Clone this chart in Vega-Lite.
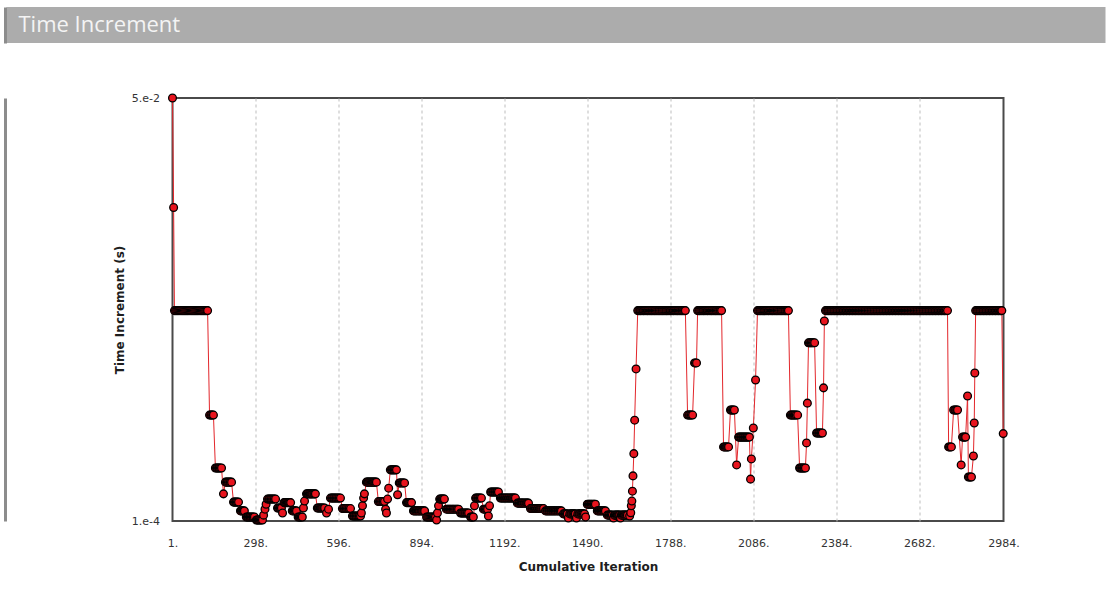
{
  "$schema": "https://vega.github.io/schema/vega-lite/v6.json",
  "background": "white",
  "padding": {"left": 3.5, "top": 7, "right": 0, "bottom": 0},
  "columns": 1,
  "bounds": "full",
  "spacing": 47,
  "config": {
    "axis": {
      "labelFont": "DejaVu Sans",
      "labelFontSize": 11,
      "labelColor": "#333333",
      "titleFont": "DejaVu Sans",
      "titleFontSize": 12,
      "titleFontWeight": "bold",
      "titleColor": "#1e1e1e"
    }
  },
  "concat": [
    {
      "width": 933,
      "height": 36,
      "view": {"stroke": null},
      "data": {"values": [{"panel": "Time Increment"}]},
      "encoding": {
        "x": {"field": "panel", "type": "nominal", "scale": {"type": "band", "range": [-166, 933], "paddingInner": 0, "paddingOuter": 0}, "axis": null},
        "y": {"field": "panel", "type": "nominal", "scale": {"type": "band", "paddingInner": 0, "paddingOuter": 0}, "axis": {"orient": "left", "labels": false, "ticks": false, "grid": false, "title": null, "domain": true, "domainColor": "#8c8c8c", "domainWidth": 3, "offset": 167.5}}
      },
      "layer": [
        {"mark": {"type": "rect", "color": "#acacac"}},
        {
          "mark": {"type": "text", "align": "left", "baseline": "middle", "dx": 12, "font": "Open Sans", "fontSize": 22, "color": "#f4f4f4"},
          "encoding": {
            "text": {"field": "panel"},
            "x": {"field": "panel", "type": "nominal", "bandPosition": 0, "scale": {"type": "band", "range": [-166, 933], "paddingInner": 0, "paddingOuter": 0}, "axis": null}
          }
        }
      ]
    },
    {
      "width": 831,
      "height": 423,
      "view": {"stroke": "#4a4a4a", "strokeWidth": 2, "fill": "white"},
      "data": {"values": [
        {"it":1,"dt":0.05},{"it":5,"dt":0.01},
        {"it":8,"dt":0.0022},{"it":12,"dt":0.0022},{"it":16,"dt":0.0022},{"it":20,"dt":0.0022},{"it":24,"dt":0.0022},{"it":28,"dt":0.0022},{"it":32,"dt":0.0022},{"it":36,"dt":0.0022},{"it":40,"dt":0.0022},{"it":44,"dt":0.0022},{"it":48,"dt":0.0022},{"it":52,"dt":0.0022},{"it":56,"dt":0.0022},{"it":60,"dt":0.0022},{"it":64,"dt":0.0022},{"it":68,"dt":0.0022},{"it":72,"dt":0.0022},{"it":76,"dt":0.0022},{"it":80,"dt":0.0022},{"it":84,"dt":0.0022},{"it":88,"dt":0.0022},{"it":92,"dt":0.0022},{"it":96,"dt":0.0022},{"it":100,"dt":0.0022},{"it":104,"dt":0.0022},{"it":108,"dt":0.0022},{"it":112,"dt":0.0022},{"it":116,"dt":0.0022},{"it":120,"dt":0.0022},{"it":124,"dt":0.0022},{"it":127,"dt":0.0022},
        {"it":134,"dt":0.000474},{"it":138,"dt":0.000474},{"it":141,"dt":0.000474},{"it":145,"dt":0.000474},{"it":148,"dt":0.000474},
        {"it":155,"dt":0.000218},{"it":159,"dt":0.000218},{"it":162,"dt":0.000218},{"it":166,"dt":0.000218},{"it":169,"dt":0.000218},{"it":173,"dt":0.000218},{"it":177,"dt":0.000218},
        {"it":184,"dt":0.000149},
        {"it":191,"dt":0.000177},{"it":195,"dt":0.000177},{"it":198,"dt":0.000177},{"it":202,"dt":0.000177},{"it":206,"dt":0.000177},{"it":209,"dt":0.000177},{"it":213,"dt":0.000177},
        {"it":220,"dt":0.000132},{"it":223,"dt":0.000132},{"it":227,"dt":0.000132},{"it":230,"dt":0.000132},{"it":234,"dt":0.000132},{"it":238,"dt":0.000132},
        {"it":245,"dt":0.000116},{"it":248,"dt":0.000116},{"it":252,"dt":0.000116},{"it":255,"dt":0.000116},{"it":259,"dt":0.000116},
        {"it":266,"dt":0.000106},{"it":270,"dt":0.000106},{"it":273,"dt":0.000106},{"it":277,"dt":0.000106},{"it":280,"dt":0.000106},{"it":284,"dt":0.000106},{"it":288,"dt":0.000106},{"it":291,"dt":0.000106},{"it":295,"dt":0.000106},
        {"it":302,"dt":0.0001015},{"it":305,"dt":0.0001015},{"it":309,"dt":0.0001015},{"it":312,"dt":0.0001015},{"it":316,"dt":0.0001015},{"it":320,"dt":0.0001015},{"it":324,"dt":0.0001015},
        {"it":328,"dt":0.000109},{"it":333,"dt":0.000119},{"it":337,"dt":0.000128},
        {"it":342,"dt":0.000138},{"it":346,"dt":0.000138},{"it":349,"dt":0.000138},{"it":353,"dt":0.000138},{"it":356,"dt":0.000138},{"it":360,"dt":0.000138},{"it":364,"dt":0.000138},{"it":367,"dt":0.000138},{"it":371,"dt":0.000138},
        {"it":378,"dt":0.000121},{"it":381,"dt":0.000121},{"it":385,"dt":0.000121},{"it":388,"dt":0.000121},{"it":392,"dt":0.000121},
        {"it":396,"dt":0.0001125},
        {"it":401,"dt":0.000131},{"it":404,"dt":0.000131},{"it":407,"dt":0.000131},{"it":410,"dt":0.000131},{"it":413,"dt":0.000131},{"it":416,"dt":0.000131},{"it":419,"dt":0.000131},{"it":422,"dt":0.000131},{"it":425,"dt":0.000131},
        {"it":431,"dt":0.000116},{"it":435,"dt":0.000116},{"it":438,"dt":0.000116},{"it":442,"dt":0.000116},{"it":446,"dt":0.000116},
        {"it":452,"dt":0.000106},{"it":456,"dt":0.000106},{"it":459,"dt":0.000106},{"it":463,"dt":0.000106},{"it":467,"dt":0.000106},
        {"it":471,"dt":0.000121},{"it":475,"dt":0.000134},
        {"it":482,"dt":0.000149},{"it":485,"dt":0.000149},{"it":488,"dt":0.000149},{"it":492,"dt":0.000149},{"it":495,"dt":0.000149},{"it":498,"dt":0.000149},{"it":501,"dt":0.000149},{"it":504,"dt":0.000149},{"it":508,"dt":0.000149},{"it":511,"dt":0.000149},{"it":514,"dt":0.000149},
        {"it":521,"dt":0.000121},{"it":524,"dt":0.000121},{"it":527,"dt":0.000121},{"it":531,"dt":0.000121},{"it":534,"dt":0.000121},{"it":537,"dt":0.000121},{"it":540,"dt":0.000121},{"it":544,"dt":0.000121},{"it":547,"dt":0.000121},
        {"it":554,"dt":0.0001125},{"it":561,"dt":0.000119},
        {"it":568,"dt":0.00014},{"it":572,"dt":0.00014},{"it":575,"dt":0.00014},{"it":579,"dt":0.00014},{"it":582,"dt":0.00014},{"it":586,"dt":0.00014},{"it":589,"dt":0.00014},{"it":593,"dt":0.00014},{"it":597,"dt":0.00014},{"it":600,"dt":0.00014},{"it":604,"dt":0.00014},
        {"it":611,"dt":0.00012},{"it":615,"dt":0.00012},{"it":618,"dt":0.00012},{"it":622,"dt":0.00012},{"it":625,"dt":0.00012},{"it":629,"dt":0.00012},{"it":633,"dt":0.00012},{"it":636,"dt":0.00012},{"it":640,"dt":0.00012},
        {"it":647,"dt":0.0001076},{"it":651,"dt":0.0001076},{"it":654,"dt":0.0001076},{"it":658,"dt":0.0001076},{"it":661,"dt":0.0001076},{"it":665,"dt":0.0001076},{"it":669,"dt":0.0001076},{"it":672,"dt":0.0001076},{"it":676,"dt":0.0001076},
        {"it":679,"dt":0.0001125},{"it":683,"dt":0.000125},{"it":687,"dt":0.00014},{"it":690,"dt":0.000149},
        {"it":697,"dt":0.000177},{"it":700,"dt":0.000177},{"it":703,"dt":0.000177},{"it":706,"dt":0.000177},{"it":709,"dt":0.000177},{"it":712,"dt":0.000177},{"it":715,"dt":0.000177},{"it":718,"dt":0.000177},{"it":721,"dt":0.000177},{"it":724,"dt":0.000177},{"it":727,"dt":0.000177},{"it":730,"dt":0.000177},{"it":733,"dt":0.000177},
        {"it":740,"dt":0.000133},{"it":744,"dt":0.000133},{"it":747,"dt":0.000133},{"it":751,"dt":0.000133},{"it":755,"dt":0.000133},{"it":758,"dt":0.000133},{"it":762,"dt":0.000133},
        {"it":766,"dt":0.000119},{"it":769,"dt":0.0001125},{"it":773,"dt":0.000138},{"it":777,"dt":0.000162},
        {"it":783,"dt":0.000212},{"it":787,"dt":0.000212},{"it":790,"dt":0.000212},{"it":794,"dt":0.000212},{"it":797,"dt":0.000212},{"it":801,"dt":0.000212},{"it":805,"dt":0.000212},
        {"it":809,"dt":0.000147},
        {"it":815,"dt":0.000175},{"it":818,"dt":0.000175},{"it":821,"dt":0.000175},{"it":825,"dt":0.000175},{"it":828,"dt":0.000175},{"it":831,"dt":0.000175},{"it":834,"dt":0.000175},
        {"it":841,"dt":0.000131},{"it":844,"dt":0.000131},{"it":847,"dt":0.000131},{"it":850,"dt":0.000131},{"it":853,"dt":0.000131},{"it":856,"dt":0.000131},{"it":859,"dt":0.000131},
        {"it":866,"dt":0.000116},{"it":869,"dt":0.000116},{"it":873,"dt":0.000116},{"it":876,"dt":0.000116},{"it":879,"dt":0.000116},{"it":883,"dt":0.000116},{"it":886,"dt":0.000116},{"it":889,"dt":0.000116},{"it":893,"dt":0.000116},{"it":896,"dt":0.000116},{"it":899,"dt":0.000116},{"it":903,"dt":0.000116},{"it":906,"dt":0.000116},
        {"it":913,"dt":0.000106},{"it":917,"dt":0.000106},{"it":921,"dt":0.000106},{"it":925,"dt":0.000106},{"it":929,"dt":0.000106},{"it":933,"dt":0.000106},{"it":937,"dt":0.000106},{"it":941,"dt":0.000106},{"it":945,"dt":0.000106},
        {"it":949,"dt":0.0001015},{"it":952,"dt":0.0001125},{"it":956,"dt":0.000125},
        {"it":960,"dt":0.000138},{"it":963,"dt":0.000138},{"it":966,"dt":0.000138},{"it":969,"dt":0.000138},{"it":972,"dt":0.000138},{"it":975,"dt":0.000138},{"it":977,"dt":0.000138},
        {"it":984,"dt":0.000119},{"it":988,"dt":0.000119},{"it":991,"dt":0.000119},{"it":995,"dt":0.000119},{"it":998,"dt":0.000119},{"it":1002,"dt":0.000119},{"it":1006,"dt":0.000119},{"it":1009,"dt":0.000119},{"it":1013,"dt":0.000119},{"it":1017,"dt":0.000119},{"it":1021,"dt":0.000119},{"it":1024,"dt":0.000119},{"it":1028,"dt":0.000119},
        {"it":1035,"dt":0.0001125},{"it":1039,"dt":0.0001125},{"it":1042,"dt":0.0001125},{"it":1046,"dt":0.0001125},{"it":1050,"dt":0.0001125},{"it":1053,"dt":0.0001125},{"it":1057,"dt":0.0001125},{"it":1060,"dt":0.0001125},{"it":1064,"dt":0.0001125},
        {"it":1071,"dt":0.000106},{"it":1074,"dt":0.000106},{"it":1078,"dt":0.000106},{"it":1081,"dt":0.000106},
        {"it":1085,"dt":0.000125},
        {"it":1089,"dt":0.00014},{"it":1092,"dt":0.00014},{"it":1096,"dt":0.00014},{"it":1099,"dt":0.00014},{"it":1103,"dt":0.00014},{"it":1106,"dt":0.00014},{"it":1110,"dt":0.00014},
        {"it":1117,"dt":0.000119},{"it":1121,"dt":0.000119},{"it":1124,"dt":0.000119},{"it":1128,"dt":0.000119},{"it":1132,"dt":0.000119},
        {"it":1135,"dt":0.0001076},{"it":1139,"dt":0.000125},
        {"it":1143,"dt":0.000153},{"it":1146,"dt":0.000153},{"it":1150,"dt":0.000153},{"it":1153,"dt":0.000153},{"it":1157,"dt":0.000153},{"it":1160,"dt":0.000153},{"it":1164,"dt":0.000153},{"it":1167,"dt":0.000153},{"it":1171,"dt":0.000153},
        {"it":1178,"dt":0.00014},{"it":1181,"dt":0.00014},{"it":1185,"dt":0.00014},{"it":1188,"dt":0.00014},{"it":1192,"dt":0.00014},{"it":1195,"dt":0.00014},{"it":1199,"dt":0.00014},{"it":1202,"dt":0.00014},{"it":1206,"dt":0.00014},{"it":1209,"dt":0.00014},{"it":1213,"dt":0.00014},{"it":1216,"dt":0.00014},{"it":1220,"dt":0.00014},{"it":1223,"dt":0.00014},{"it":1226,"dt":0.00014},{"it":1229,"dt":0.00014},{"it":1232,"dt":0.00014},
        {"it":1239,"dt":0.00013},{"it":1243,"dt":0.00013},{"it":1246,"dt":0.00013},{"it":1250,"dt":0.00013},{"it":1253,"dt":0.00013},{"it":1256,"dt":0.00013},{"it":1259,"dt":0.00013},{"it":1263,"dt":0.00013},{"it":1266,"dt":0.00013},{"it":1270,"dt":0.00013},{"it":1273,"dt":0.00013},{"it":1276,"dt":0.00013},{"it":1279,"dt":0.00013},
        {"it":1286,"dt":0.00012},{"it":1290,"dt":0.00012},{"it":1293,"dt":0.00012},{"it":1297,"dt":0.00012},{"it":1300,"dt":0.00012},{"it":1303,"dt":0.00012},{"it":1306,"dt":0.00012},{"it":1310,"dt":0.00012},{"it":1313,"dt":0.00012},{"it":1317,"dt":0.00012},{"it":1320,"dt":0.00012},{"it":1323,"dt":0.00012},{"it":1326,"dt":0.00012},{"it":1330,"dt":0.00012},{"it":1333,"dt":0.00012},
        {"it":1340,"dt":0.000116},{"it":1344,"dt":0.000116},{"it":1347,"dt":0.000116},{"it":1351,"dt":0.000116},{"it":1354,"dt":0.000116},{"it":1358,"dt":0.000116},{"it":1361,"dt":0.000116},{"it":1365,"dt":0.000116},{"it":1368,"dt":0.000116},{"it":1372,"dt":0.000116},{"it":1375,"dt":0.000116},{"it":1379,"dt":0.000116},{"it":1383,"dt":0.000116},{"it":1386,"dt":0.000116},{"it":1390,"dt":0.000116},{"it":1393,"dt":0.000116},{"it":1397,"dt":0.000116},
        {"it":1404,"dt":0.000111},{"it":1408,"dt":0.000111},{"it":1411,"dt":0.000111},{"it":1415,"dt":0.000111},{"it":1418,"dt":0.000111},{"it":1422,"dt":0.0001045},{"it":1427,"dt":0.000111},{"it":1431,"dt":0.000111},{"it":1434,"dt":0.000111},{"it":1438,"dt":0.000111},{"it":1441,"dt":0.000111},{"it":1444,"dt":0.000111},{"it":1447,"dt":0.000111},{"it":1451,"dt":0.0001045},{"it":1456,"dt":0.000111},{"it":1460,"dt":0.000111},{"it":1463,"dt":0.000111},{"it":1467,"dt":0.000111},{"it":1470,"dt":0.000111},{"it":1473,"dt":0.000111},{"it":1476,"dt":0.000111},{"it":1480,"dt":0.000111},
        {"it":1484,"dt":0.000106},
        {"it":1490,"dt":0.000128},{"it":1494,"dt":0.000128},{"it":1497,"dt":0.000128},{"it":1501,"dt":0.000128},{"it":1504,"dt":0.000128},{"it":1508,"dt":0.000128},{"it":1512,"dt":0.000128},{"it":1515,"dt":0.000128},{"it":1519,"dt":0.000128},
        {"it":1526,"dt":0.000116},{"it":1530,"dt":0.000116},{"it":1533,"dt":0.000116},{"it":1537,"dt":0.000116},{"it":1540,"dt":0.000116},{"it":1544,"dt":0.000116},{"it":1548,"dt":0.000116},{"it":1551,"dt":0.000116},{"it":1555,"dt":0.000116},
        {"it":1562,"dt":0.000109},{"it":1566,"dt":0.000109},{"it":1569,"dt":0.000109},{"it":1573,"dt":0.000109},{"it":1576,"dt":0.000109},{"it":1580,"dt":0.000109},{"it":1584,"dt":0.0001045},{"it":1587,"dt":0.000109},{"it":1590,"dt":0.000109},{"it":1594,"dt":0.000109},{"it":1597,"dt":0.000109},{"it":1600,"dt":0.000109},{"it":1603,"dt":0.000109},{"it":1606,"dt":0.000109},{"it":1609,"dt":0.0001045},{"it":1612,"dt":0.000109},{"it":1615,"dt":0.000109},{"it":1619,"dt":0.000109},{"it":1622,"dt":0.000109},{"it":1625,"dt":0.000109},{"it":1628,"dt":0.000109},{"it":1631,"dt":0.000109},{"it":1634,"dt":0.000109},
        {"it":1642,"dt":0.0001076},{"it":1646,"dt":0.000113},{"it":1648,"dt":0.000125},{"it":1650,"dt":0.000134},{"it":1652,"dt":0.000155},{"it":1654,"dt":0.000194},{"it":1657,"dt":0.000269},{"it":1660,"dt":0.00044},{"it":1665,"dt":0.000934},
        {"it":1671,"dt":0.0022},{"it":1675,"dt":0.0022},{"it":1679,"dt":0.0022},{"it":1682,"dt":0.0022},{"it":1686,"dt":0.0022},{"it":1690,"dt":0.0022},{"it":1693,"dt":0.0022},{"it":1697,"dt":0.0022},{"it":1701,"dt":0.0022},{"it":1705,"dt":0.0022},{"it":1708,"dt":0.0022},{"it":1712,"dt":0.0022},{"it":1716,"dt":0.0022},{"it":1720,"dt":0.0022},{"it":1723,"dt":0.0022},{"it":1727,"dt":0.0022},{"it":1731,"dt":0.0022},{"it":1734,"dt":0.0022},{"it":1738,"dt":0.0022},{"it":1742,"dt":0.0022},{"it":1746,"dt":0.0022},{"it":1749,"dt":0.0022},{"it":1753,"dt":0.0022},{"it":1757,"dt":0.0022},{"it":1760,"dt":0.0022},{"it":1764,"dt":0.0022},{"it":1768,"dt":0.0022},{"it":1772,"dt":0.0022},{"it":1775,"dt":0.0022},{"it":1779,"dt":0.0022},{"it":1783,"dt":0.0022},{"it":1787,"dt":0.0022},{"it":1790,"dt":0.0022},{"it":1794,"dt":0.0022},{"it":1798,"dt":0.0022},{"it":1801,"dt":0.0022},{"it":1805,"dt":0.0022},{"it":1809,"dt":0.0022},{"it":1813,"dt":0.0022},{"it":1816,"dt":0.0022},{"it":1820,"dt":0.0022},{"it":1824,"dt":0.0022},{"it":1828,"dt":0.0022},{"it":1831,"dt":0.0022},{"it":1835,"dt":0.0022},{"it":1839,"dt":0.0022},{"it":1842,"dt":0.0022},
        {"it":1850,"dt":0.000474},{"it":1854,"dt":0.000474},{"it":1857,"dt":0.000474},{"it":1861,"dt":0.000474},{"it":1864,"dt":0.000474},{"it":1868,"dt":0.000474},
        {"it":1875,"dt":0.00102},{"it":1878,"dt":0.00102},{"it":1882,"dt":0.00102},
        {"it":1886,"dt":0.0022},{"it":1890,"dt":0.0022},{"it":1893,"dt":0.0022},{"it":1897,"dt":0.0022},{"it":1901,"dt":0.0022},{"it":1905,"dt":0.0022},{"it":1908,"dt":0.0022},{"it":1912,"dt":0.0022},{"it":1916,"dt":0.0022},{"it":1920,"dt":0.0022},{"it":1923,"dt":0.0022},{"it":1927,"dt":0.0022},{"it":1931,"dt":0.0022},{"it":1935,"dt":0.0022},{"it":1938,"dt":0.0022},{"it":1942,"dt":0.0022},{"it":1946,"dt":0.0022},{"it":1950,"dt":0.0022},{"it":1953,"dt":0.0022},{"it":1957,"dt":0.0022},{"it":1961,"dt":0.0022},{"it":1965,"dt":0.0022},{"it":1968,"dt":0.0022},{"it":1972,"dt":0.0022},
        {"it":1979,"dt":0.000297},{"it":1982,"dt":0.000297},{"it":1985,"dt":0.000297},{"it":1988,"dt":0.000297},{"it":1991,"dt":0.000297},{"it":1994,"dt":0.000297},{"it":1997,"dt":0.000297},
        {"it":2004,"dt":0.000511},{"it":2007,"dt":0.000511},{"it":2011,"dt":0.000511},{"it":2014,"dt":0.000511},{"it":2018,"dt":0.000511},
        {"it":2026,"dt":0.000228},
        {"it":2033,"dt":0.000343},{"it":2036,"dt":0.000343},{"it":2040,"dt":0.000343},{"it":2043,"dt":0.000343},{"it":2047,"dt":0.000343},{"it":2050,"dt":0.000343},{"it":2054,"dt":0.000343},{"it":2057,"dt":0.000343},{"it":2061,"dt":0.000343},{"it":2064,"dt":0.000343},{"it":2068,"dt":0.000343},{"it":2072,"dt":0.000343},
        {"it":2076,"dt":0.000185},{"it":2079,"dt":0.000249},{"it":2086,"dt":0.000392},{"it":2094,"dt":0.000793},
        {"it":2101,"dt":0.0022},{"it":2105,"dt":0.0022},{"it":2109,"dt":0.0022},{"it":2112,"dt":0.0022},{"it":2116,"dt":0.0022},{"it":2120,"dt":0.0022},{"it":2124,"dt":0.0022},{"it":2127,"dt":0.0022},{"it":2131,"dt":0.0022},{"it":2135,"dt":0.0022},{"it":2139,"dt":0.0022},{"it":2142,"dt":0.0022},{"it":2146,"dt":0.0022},{"it":2150,"dt":0.0022},{"it":2154,"dt":0.0022},{"it":2157,"dt":0.0022},{"it":2161,"dt":0.0022},{"it":2165,"dt":0.0022},{"it":2169,"dt":0.0022},{"it":2172,"dt":0.0022},{"it":2176,"dt":0.0022},{"it":2180,"dt":0.0022},{"it":2184,"dt":0.0022},{"it":2187,"dt":0.0022},{"it":2191,"dt":0.0022},{"it":2195,"dt":0.0022},{"it":2199,"dt":0.0022},{"it":2202,"dt":0.0022},{"it":2206,"dt":0.0022},{"it":2209,"dt":0.0022},{"it":2212,"dt":0.0022},
        {"it":2219,"dt":0.000474},{"it":2222,"dt":0.000474},{"it":2226,"dt":0.000474},{"it":2229,"dt":0.000474},{"it":2233,"dt":0.000474},{"it":2236,"dt":0.000474},{"it":2240,"dt":0.000474},{"it":2245,"dt":0.000474},
        {"it":2252,"dt":0.000218},{"it":2255,"dt":0.000218},{"it":2259,"dt":0.000218},{"it":2262,"dt":0.000218},{"it":2266,"dt":0.000218},{"it":2269,"dt":0.000218},{"it":2273,"dt":0.000218},
        {"it":2277,"dt":0.000315},{"it":2280,"dt":0.000565},
        {"it":2284,"dt":0.00137},{"it":2287,"dt":0.00137},{"it":2291,"dt":0.00137},{"it":2294,"dt":0.00137},{"it":2298,"dt":0.00137},{"it":2302,"dt":0.00137},{"it":2306,"dt":0.00137},
        {"it":2313,"dt":0.000364},{"it":2316,"dt":0.000364},{"it":2320,"dt":0.000364},{"it":2323,"dt":0.000364},{"it":2327,"dt":0.000364},{"it":2330,"dt":0.000364},{"it":2334,"dt":0.000364},
        {"it":2338,"dt":0.000707},{"it":2341,"dt":0.00189},
        {"it":2345,"dt":0.0022},{"it":2349,"dt":0.0022},{"it":2353,"dt":0.0022},{"it":2356,"dt":0.0022},{"it":2360,"dt":0.0022},{"it":2364,"dt":0.0022},{"it":2367,"dt":0.0022},{"it":2371,"dt":0.0022},{"it":2375,"dt":0.0022},{"it":2378,"dt":0.0022},{"it":2382,"dt":0.0022},{"it":2386,"dt":0.0022},{"it":2389,"dt":0.0022},{"it":2393,"dt":0.0022},{"it":2397,"dt":0.0022},{"it":2400,"dt":0.0022},{"it":2404,"dt":0.0022},{"it":2408,"dt":0.0022},{"it":2411,"dt":0.0022},{"it":2415,"dt":0.0022},{"it":2419,"dt":0.0022},{"it":2422,"dt":0.0022},{"it":2426,"dt":0.0022},{"it":2430,"dt":0.0022},{"it":2433,"dt":0.0022},{"it":2437,"dt":0.0022},{"it":2441,"dt":0.0022},{"it":2444,"dt":0.0022},{"it":2448,"dt":0.0022},{"it":2452,"dt":0.0022},{"it":2455,"dt":0.0022},{"it":2459,"dt":0.0022},{"it":2463,"dt":0.0022},{"it":2466,"dt":0.0022},{"it":2470,"dt":0.0022},{"it":2474,"dt":0.0022},{"it":2477,"dt":0.0022},{"it":2481,"dt":0.0022},{"it":2485,"dt":0.0022},{"it":2488,"dt":0.0022},{"it":2492,"dt":0.0022},{"it":2496,"dt":0.0022},{"it":2499,"dt":0.0022},{"it":2503,"dt":0.0022},{"it":2507,"dt":0.0022},{"it":2510,"dt":0.0022},{"it":2514,"dt":0.0022},{"it":2518,"dt":0.0022},{"it":2521,"dt":0.0022},{"it":2525,"dt":0.0022},{"it":2529,"dt":0.0022},{"it":2532,"dt":0.0022},{"it":2536,"dt":0.0022},{"it":2540,"dt":0.0022},{"it":2543,"dt":0.0022},{"it":2547,"dt":0.0022},{"it":2551,"dt":0.0022},{"it":2554,"dt":0.0022},{"it":2558,"dt":0.0022},{"it":2562,"dt":0.0022},{"it":2565,"dt":0.0022},{"it":2569,"dt":0.0022},{"it":2573,"dt":0.0022},{"it":2576,"dt":0.0022},{"it":2580,"dt":0.0022},{"it":2584,"dt":0.0022},{"it":2587,"dt":0.0022},{"it":2591,"dt":0.0022},{"it":2595,"dt":0.0022},{"it":2598,"dt":0.0022},{"it":2602,"dt":0.0022},{"it":2606,"dt":0.0022},{"it":2609,"dt":0.0022},{"it":2613,"dt":0.0022},{"it":2617,"dt":0.0022},{"it":2620,"dt":0.0022},{"it":2624,"dt":0.0022},{"it":2628,"dt":0.0022},{"it":2631,"dt":0.0022},{"it":2635,"dt":0.0022},{"it":2639,"dt":0.0022},{"it":2642,"dt":0.0022},{"it":2646,"dt":0.0022},{"it":2650,"dt":0.0022},{"it":2653,"dt":0.0022},{"it":2657,"dt":0.0022},{"it":2661,"dt":0.0022},{"it":2664,"dt":0.0022},{"it":2668,"dt":0.0022},{"it":2672,"dt":0.0022},{"it":2675,"dt":0.0022},{"it":2679,"dt":0.0022},{"it":2683,"dt":0.0022},{"it":2686,"dt":0.0022},{"it":2690,"dt":0.0022},{"it":2694,"dt":0.0022},{"it":2697,"dt":0.0022},{"it":2701,"dt":0.0022},{"it":2705,"dt":0.0022},{"it":2708,"dt":0.0022},{"it":2712,"dt":0.0022},{"it":2716,"dt":0.0022},{"it":2719,"dt":0.0022},{"it":2723,"dt":0.0022},{"it":2727,"dt":0.0022},{"it":2730,"dt":0.0022},{"it":2734,"dt":0.0022},{"it":2738,"dt":0.0022},{"it":2741,"dt":0.0022},{"it":2745,"dt":0.0022},{"it":2749,"dt":0.0022},{"it":2752,"dt":0.0022},{"it":2756,"dt":0.0022},{"it":2760,"dt":0.0022},{"it":2763,"dt":0.0022},{"it":2767,"dt":0.0022},{"it":2771,"dt":0.0022},{"it":2774,"dt":0.0022},{"it":2778,"dt":0.0022},{"it":2783,"dt":0.0022},
        {"it":2787,"dt":0.000297},{"it":2790,"dt":0.000297},{"it":2794,"dt":0.000297},{"it":2797,"dt":0.000297},
        {"it":2805,"dt":0.000511},{"it":2809,"dt":0.000511},{"it":2812,"dt":0.000511},{"it":2816,"dt":0.000511},{"it":2819,"dt":0.000511},
        {"it":2832,"dt":0.000228},
        {"it":2837,"dt":0.000343},{"it":2841,"dt":0.000343},{"it":2845,"dt":0.000343},{"it":2848,"dt":0.000343},
        {"it":2855,"dt":0.000627},
        {"it":2858,"dt":0.000191},{"it":2862,"dt":0.000191},{"it":2866,"dt":0.000191},{"it":2869,"dt":0.000191},
        {"it":2876,"dt":0.00026},{"it":2879,"dt":0.000422},{"it":2881,"dt":0.00088},
        {"it":2884,"dt":0.0022},{"it":2888,"dt":0.0022},{"it":2891,"dt":0.0022},{"it":2895,"dt":0.0022},{"it":2899,"dt":0.0022},{"it":2902,"dt":0.0022},{"it":2906,"dt":0.0022},{"it":2910,"dt":0.0022},{"it":2913,"dt":0.0022},{"it":2917,"dt":0.0022},{"it":2921,"dt":0.0022},{"it":2924,"dt":0.0022},{"it":2928,"dt":0.0022},{"it":2932,"dt":0.0022},{"it":2935,"dt":0.0022},{"it":2939,"dt":0.0022},{"it":2943,"dt":0.0022},{"it":2946,"dt":0.0022},{"it":2950,"dt":0.0022},{"it":2954,"dt":0.0022},{"it":2957,"dt":0.0022},{"it":2961,"dt":0.0022},{"it":2965,"dt":0.0022},{"it":2968,"dt":0.0022},{"it":2972,"dt":0.0022},{"it":2975,"dt":0.0022},{"it":2978,"dt":0.0022},
        {"it":2983,"dt":0.000361}
      ]},
      "encoding": {
        "x": {
          "field": "it",
          "type": "quantitative",
          "scale": {"domain": [1, 2984], "nice": false, "zero": false},
          "axis": {
            "title": "Cumulative Iteration",
            "values": [1, 298, 596, 894, 1192, 1490, 1788, 2086, 2384, 2682, 2984],
            "labelExpr": "datum.value + '.'",
            "domain": false,
            "ticks": false,
            "labelPadding": 16,
            "labelFlush": false,
            "labelOverlap": false,
            "titlePadding": 13,
            "grid": true,
            "gridColor": "#bdbdbd",
            "gridDash": [3, 3],
            "gridWidth": 1,
            "gridOpacity": {"condition": {"test": "datum.value <= 1 || datum.value >= 2984", "value": 0}, "value": 1}
          }
        },
        "y": {
          "field": "dt",
          "type": "quantitative",
          "scale": {"type": "log", "domain": [0.0001, 0.05], "nice": false},
          "axis": {
            "title": "Time Increment (s)",
            "values": [0.0001, 0.05],
            "labelExpr": "datum.value < 0.001 ? '1.e-4' : '5.e-2'",
            "domain": false,
            "ticks": false,
            "grid": false,
            "labelPadding": 13,
            "titlePadding": 5
          }
        }
      },
      "layer": [
        {"mark": {"type": "line", "color": "#e3262b", "strokeWidth": 1}},
        {
          "mark": {"type": "circle", "fill": "#e8141e", "stroke": "#000000", "strokeWidth": 1.3, "size": 60, "opacity": 1},
          "encoding": {
            "y": {
              "field": "dt",
              "type": "quantitative",
              "scale": {"type": "log", "domain": [0.0001, 0.05], "nice": false},
              "axis": {"orient": "left", "offset": 167.5, "labels": false, "ticks": false, "grid": false, "title": null, "domain": true, "domainColor": "#8c8c8c", "domainWidth": 3}
            }
          }
        }
      ],
      "resolve": {"axis": {"y": "independent"}}
    }
  ]
}
